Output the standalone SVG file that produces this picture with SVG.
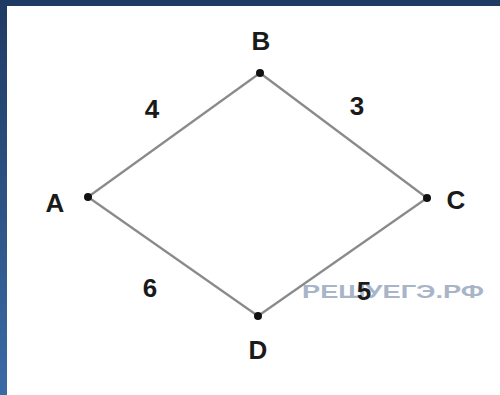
<svg xmlns="http://www.w3.org/2000/svg" width="500" height="395" viewBox="0 0 500 395">
<defs>
<linearGradient id="bg" x1="0" y1="0" x2="0" y2="1">
<stop offset="0" stop-color="#1f3a62"/>
<stop offset="1" stop-color="#3a6aa6"/>
</linearGradient>
<style>
.lbl{font-family:"Liberation Sans",Arial,sans-serif;font-weight:bold;font-size:26px;fill:#1a1a1a;text-anchor:middle}
.edge{stroke:#8a8a8a;stroke-width:2.2;fill:none}
.dot{fill:#111}
.wm{font-family:"Liberation Sans",Arial,sans-serif;font-weight:bold;font-size:19px;fill:#a8b5c8}
</style>
</defs>
<rect width="500" height="395" fill="url(#bg)"/>
<rect x="7" y="6" width="493" height="389" fill="#ffffff"/>
<text class="wm" x="302" y="298" textLength="182" lengthAdjust="spacingAndGlyphs">РЕШУЕГЭ.РФ</text>
<g id="edges">
<line class="edge" x1="88" y1="197" x2="260" y2="73"/>
<line class="edge" x1="260" y1="73" x2="427" y2="198"/>
<line class="edge" x1="88" y1="197" x2="258" y2="316"/>
<line class="edge" x1="258" y1="316" x2="427" y2="198"/>
<text class="lbl" x="152" y="118">4</text>
<text class="lbl" x="357" y="115">3</text>
<text class="lbl" x="150" y="297">6</text>
<text class="lbl" x="364" y="300">5</text>
</g>
<g id="A"><circle class="dot" cx="88" cy="197" r="4"/><text class="lbl" x="55" y="212">A</text></g>
<g id="B"><circle class="dot" cx="260" cy="73" r="4"/><text class="lbl" x="261" y="50">B</text></g>
<g id="C"><circle class="dot" cx="427" cy="198" r="4"/><text class="lbl" x="456" y="209">C</text></g>
<g id="D"><circle class="dot" cx="258" cy="316" r="4"/><text class="lbl" x="258" y="359">D</text></g>
</svg>
